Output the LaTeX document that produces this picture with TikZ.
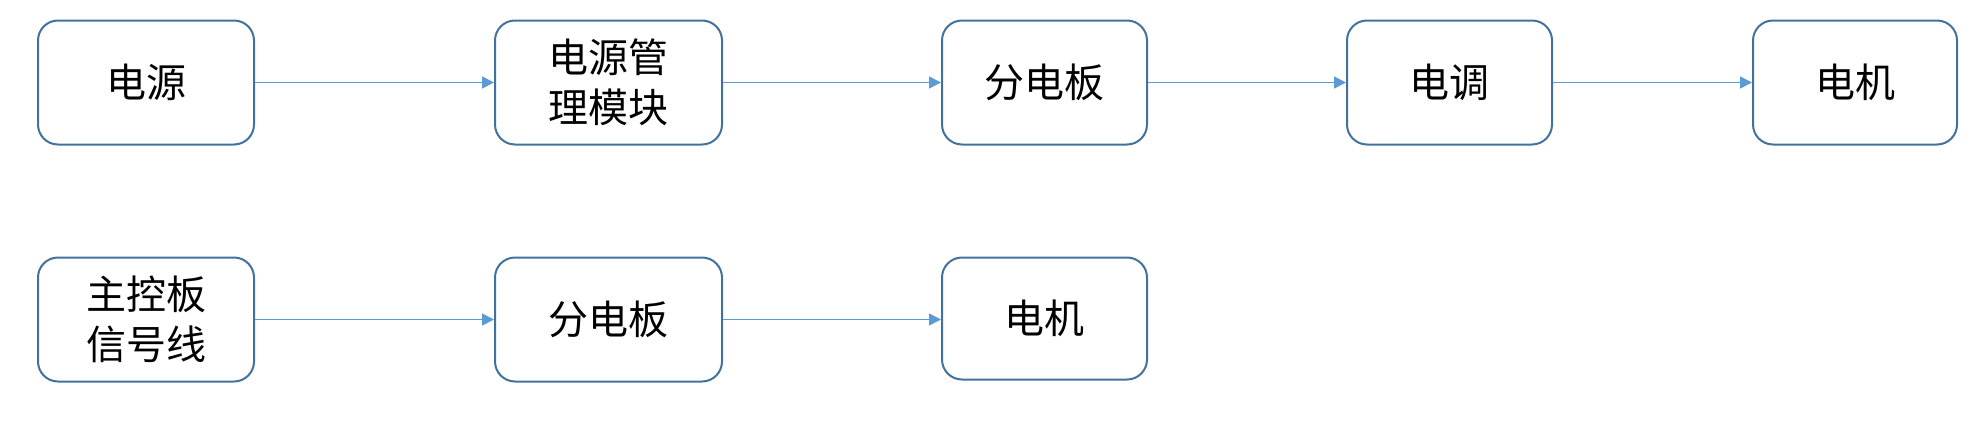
\documentclass[tikz,border=0pt]{standalone}
\usepackage{fontspec}
\setmainfont{Noto Sans CJK SC}
\usetikzlibrary{arrows.meta}
\definecolor{boxline}{HTML}{41719C}
\definecolor{arrowline}{HTML}{5B9BD5}
\tikzset{
  unit/.style={draw=boxline, line width=1pt, rounded corners=10pt, minimum height=62pt,
    inner sep=0pt, align=center, font=\fontsize{20}{25}\selectfont},
  link/.style={draw=arrowline, line width=0.75pt, -{Triangle[length=6pt,width=6pt]}}
}

\begin{document}
\begin{tikzpicture}[x=0.5pt,y=-0.5pt]
\useasboundingbox (0,0) rectangle (1985,439);
% first chain
\node[unit, minimum width=108pt] (power) at (146,82.5) {电源};
\node[unit, minimum width=113.5pt] (pmu) at (608.5,82.5) {电源管\\理模块};
\node[unit, minimum width=102.5pt] (pdb) at (1044.5,82.5) {分电板};
\node[unit, minimum width=102.5pt] (esc) at (1449.5,82.5) {电调};
\node[unit, minimum width=102pt] (motor) at (1855,82.5) {电机};
\draw[link] (power) -- (pmu);
\draw[link] (pmu) -- (pdb);
\draw[link] (pdb) -- (esc);
\draw[link] (esc) -- (motor);
% second chain
\node[unit, minimum width=108pt] (signal) at (146,319.5) {主控板\\信号线};
\node[unit, minimum width=113.5pt] (pdbb) at (608.5,319.5) {分电板};
\node[unit, minimum width=102.5pt, minimum height=61pt] (motorb) at (1044.5,318.5) {电机};
\draw[link] (signal) -- (pdbb);
\draw[link] (pdbb.east) -- (motorb.west|-pdbb.east);

\end{tikzpicture}
\end{document}
